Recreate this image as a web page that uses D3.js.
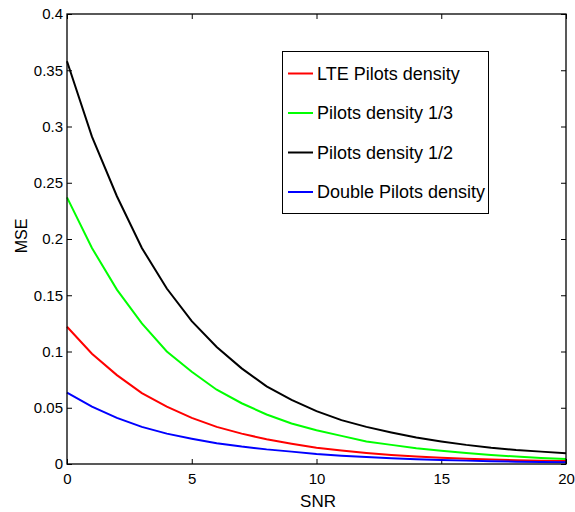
<!DOCTYPE html>
<html>
<head>
<meta charset="utf-8">
<script src="https://cdn.jsdelivr.net/npm/d3@7"></script>
<style>
  body { margin: 0; background: #fff; }
  svg { font-family: "Liberation Sans", Arial, sans-serif; }
</style>
</head>
<body>
<svg id="chart" width="575" height="512"></svg>
<script>
// SNR points (dB)
var snr = d3.range(0, 21);

// MSE values
var lteDensity = [0.122, 0.098, 0.079, 0.063, 0.051, 0.041, 0.033, 0.027, 0.022, 0.018, 0.0145,
                  0.012, 0.0098, 0.008, 0.0066, 0.0056, 0.0047, 0.004, 0.0034, 0.003, 0.0027];
var density13 = [0.237, 0.192, 0.155, 0.125, 0.100, 0.082, 0.066, 0.054, 0.044, 0.036, 0.030,
                 0.025, 0.020, 0.017, 0.014, 0.0118, 0.0097, 0.008, 0.0066, 0.0054, 0.0045];
var density12 = [0.358, 0.291, 0.238, 0.192, 0.156, 0.127, 0.104, 0.085, 0.069, 0.057, 0.047,
                 0.039, 0.033, 0.028, 0.0235, 0.020, 0.017, 0.0145, 0.0125, 0.011, 0.0095];
var doubleDensity = [0.0634, 0.051, 0.041, 0.033, 0.027, 0.0225, 0.0185, 0.0155, 0.013, 0.011, 0.0088,
                     0.0074, 0.0062, 0.0052, 0.0043, 0.0036, 0.003, 0.0025, 0.0021, 0.0018, 0.0015];

var seriesNames = ["LTE Pilots density", "Pilots density 1/3", "Pilots density 1/2", "Double Pilots density"];
var seriesColors = ["#ff0000", "#00ff00", "#000000", "#0000ff"];
var seriesValues = [lteDensity, density13, density12, doubleDensity];

var xTicks = [0, 5, 10, 15, 20];
var yTicks = [0, 0.05, 0.1, 0.15, 0.2, 0.25, 0.3, 0.35, 0.4];

var svg = d3.select("#chart");
var pLeft = 67, pRight = 566, pTop = 14, pBottom = 464;

var x = d3.scaleLinear().domain([0, 20]).range([pLeft, pRight]);
var y = d3.scaleLinear().domain([0, 0.4]).range([pBottom, pTop]);

// axes with inward ticks (matlab style)
var fmt = function(d) { return String(+d.toFixed(2)); };

svg.append("g")
    .attr("transform", "translate(0," + pBottom + ")")
    .call(d3.axisBottom(x).tickValues(xTicks).tickSize(-5).tickPadding(9).tickFormat(d3.format("d")))
    .call(function(g) { g.select(".domain").remove(); });
svg.append("g")
    .attr("transform", "translate(0," + pTop + ")")
    .call(d3.axisTop(x).tickValues(xTicks).tickSize(-5).tickFormat(""))
    .call(function(g) { g.select(".domain").remove(); });
svg.append("g")
    .attr("transform", "translate(" + pLeft + ",0)")
    .call(d3.axisLeft(y).tickValues(yTicks).tickSize(-5).tickPadding(4).tickFormat(fmt))
    .call(function(g) { g.select(".domain").remove(); });
svg.append("g")
    .attr("transform", "translate(" + pRight + ",0)")
    .call(d3.axisRight(y).tickValues(yTicks).tickSize(-5).tickFormat(""))
    .call(function(g) { g.select(".domain").remove(); });

svg.selectAll(".tick line").attr("stroke", "#000").attr("stroke-width", 1);
svg.selectAll(".tick text").attr("font-size", 15).attr("fill", "#000")
    .attr("font-family", "Liberation Sans, Arial, sans-serif");

// curves
var line = d3.line()
    .x(function(d, i) { return x(snr[i]); })
    .y(function(d) { return y(d); });

svg.selectAll(".curve")
    .data(seriesValues)
    .enter().append("path")
    .attr("class", "curve")
    .attr("d", line)
    .attr("fill", "none")
    .attr("stroke", function(d, i) { return seriesColors[i]; })
    .attr("stroke-width", 2);

// box
svg.append("rect")
    .attr("x", pLeft).attr("y", pTop)
    .attr("width", pRight - pLeft).attr("height", pBottom - pTop)
    .attr("fill", "none").attr("stroke", "#000").attr("stroke-width", 1.3);

// axis labels
svg.append("text")
    .attr("x", 318).attr("y", 507)
    .attr("text-anchor", "middle").attr("font-size", 17)
    .text("SNR");
svg.append("text")
    .attr("transform", "translate(27,236) rotate(-90)")
    .attr("text-anchor", "middle").attr("font-size", 16)
    .text("MSE");

// legend
var legend = svg.append("g");
legend.append("rect")
    .attr("x", 282.5).attr("y", 51.5).attr("width", 206).attr("height", 162)
    .attr("fill", "#fff").attr("stroke", "#000").attr("stroke-width", 1);

var item = legend.selectAll(".item")
    .data(seriesNames)
    .enter().append("g")
    .attr("class", "item")
    .attr("transform", function(d, i) { return "translate(0," + (73.5 + i * 39.5) + ")"; });
item.append("line")
    .attr("x1", 288).attr("x2", 313)
    .attr("stroke", function(d, i) { return seriesColors[i]; })
    .attr("stroke-width", 2);
item.append("text")
    .attr("x", 317).attr("dy", "0.35em")
    .attr("font-size", 18)
    .text(function(d) { return d; });
</script>
</body>
</html>
